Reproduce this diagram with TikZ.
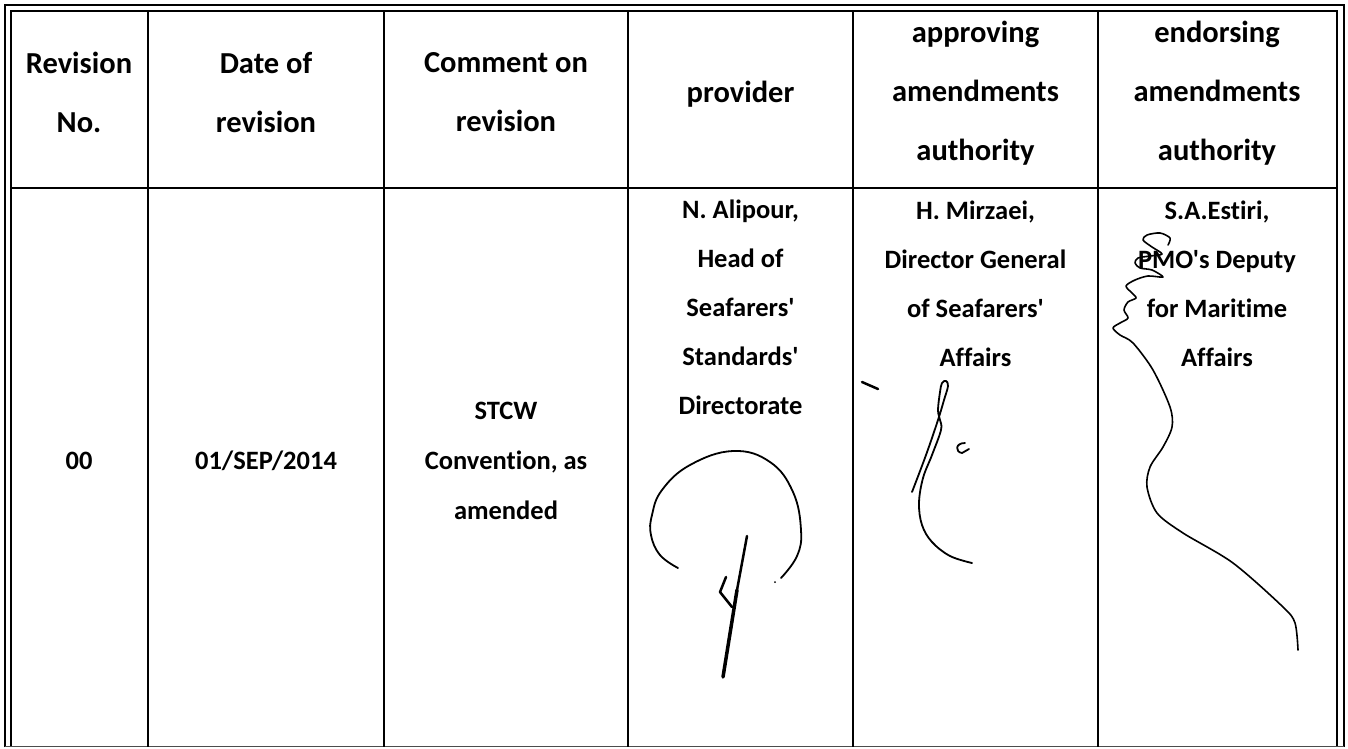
\documentclass[tikz,border=0pt]{standalone}
\usepackage{fontspec}
\setmainfont{Carlito}[Ligatures={CommonOff,TeXOff}]
\newcommand{\hs}{\rule[-12pt]{0pt}{28pt}}
\newcommand{\bs}{\rule[-9pt]{0pt}{23pt}}
\begin{document}
\begin{tikzpicture}[x=1pt,y=-1pt,
  hd/.style={inner sep=0pt, align=center, font=\fontsize{30.5}{59}\selectfont\bfseries},
  bd/.style={inner sep=0pt, align=center, font=\fontsize{26.5}{49}\selectfont\bfseries},
  grid/.style={line width=1.6pt, black},
  sig/.style={line width=1.8pt, line cap=round, line join=round, black},
  sigthick/.style={line width=3.5pt, line cap=round, line join=round, black}]
\useasboundingbox (0,0) rectangle (1348,748);
\fill[white] (0,0) rectangle (1348,748);
% borders
\draw[line width=1.5pt] (5,747) -- (5,5) -- (1344,5) -- (1344,747);
\draw[line width=2.5pt] (11,747) -- (11,11) -- (1337,11) -- (1337,747);
\draw[line width=1.5pt, black!70] (5,746.5) -- (1344,746.5);
% grid
\foreach \x in {148,384,628,853,1098} \draw[grid] (\x,11) -- (\x,747);
\draw[grid] (11,188) -- (1337,188);
% header
\node[hd] (h1) at (79,98) {\hs Revision\\\hs No.};
\node[hd] (h2) at (266,98) {\hs Date of\\\hs revision};
\node[hd] (h3) at (506,98) {\hs Comment on\\\hs revision};
\node[hd] (h4) at (740.5,98) {\hs provider};
\node[hd] (h5) at (975.5,97) {\hs approving\\\hs amendments\\\hs authority};
\node[hd] (h6) at (1217,97) {\hs endorsing\\\hs amendments\\\hs authority};
% body
\node[bd] (b1) at (79,465) {\bs 00};
\node[bd] (b2) at (266,465) {\bs 01/SEP/2014};
\node[bd, font=\fontsize{26.5}{50}\selectfont\bfseries] (b3) at (506,465) {\bs STCW\\\bs Convention, as\\\bs amended};
\node[bd] (b4) at (740.5,312) {\bs N. Alipour,\\\bs Head of\\\bs Seafarers'\\\bs Standards'\\\bs Directorate};
\node[bd] (b5) at (975.5,288) {\bs H. Mirzaei,\\\bs Director General\\\bs of Seafarers'\\\bs Affairs};
\node[bd] (b6) at (1217,288) {\bs S.A.Estiri,\\\bs PMO's Deputy\\\bs for Maritime\\\bs Affairs};
% signature: provider
\draw[sig] plot[smooth, tension=0.7] coordinates {(678,568) (660,555) (651,535) (652,515) (662,490) (690,465) (733,451) (770,462) (793,492) (801,530) (797,556) (781,578)};
\fill (775,582) circle (1pt);
\draw[line width=2.5pt, line cap=round] (747,536) -- (737,590);
\draw[sigthick] (737,590) -- (723,677);
\draw[line width=2.5pt, line cap=round, line join=round] (732,607) -- (720,592) -- (726,577);
% signature: approving
\draw[line width=2.5pt, line cap=round] (862,382) -- (878,389);
\draw[sig] plot[smooth, tension=0.6] coordinates {(912,492) (926,455) (938,420) (944,400) (948,386) (946,381) (942,383) (940,392) (938,410) (940,420) (941,430) (932,455) (923,478) (919,503) (922,525) (932,542) (950,556) (972,563)};
\draw[sig] (965,443) .. controls (955,443) and (955,452) .. (962,453) -- (969,449);
% signature: endorsing
\draw[line width=1.6pt, line cap=round, line join=round] plot[smooth, tension=0.5] coordinates {(1168,245) (1170,238) (1160,233) (1147,235) (1143,240) (1152,247) (1162,254) (1150,256) (1138,258) (1135,263) (1140,268) (1152,270) (1163,277) (1148,276) (1135,280) (1126,286) (1132,293) (1136,298) (1128,302) (1124,310) (1128,318) (1120,323) (1113,328) (1120,335) (1133,343) (1153,370) (1170,407) (1172,427) (1163,447) (1150,467) (1147,487) (1157,513) (1183,533) (1233,563) (1283,607) (1295,623) (1298,650)};
\end{tikzpicture}
\end{document}
